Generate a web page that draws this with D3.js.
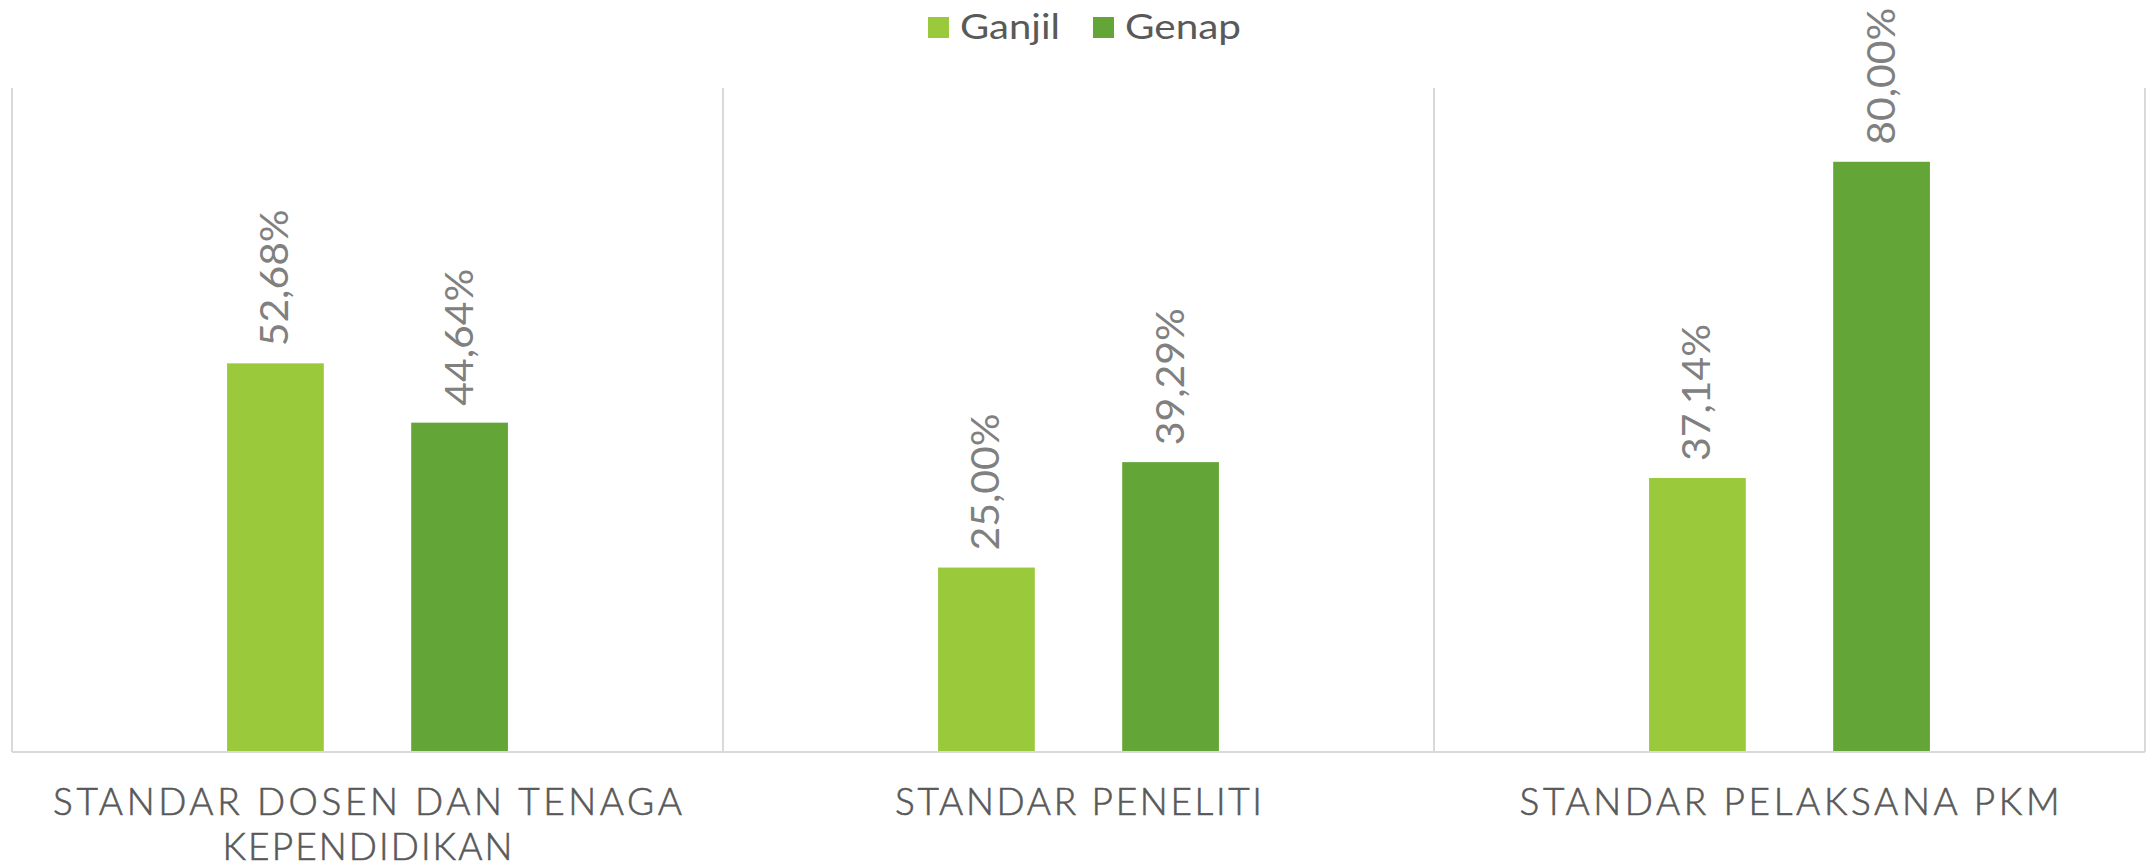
<!DOCTYPE html>
<html>
<head>
<meta charset="utf-8">
<script src="https://cdn.jsdelivr.net/npm/d3@7"></script>
<style>
  html, body { margin: 0; padding: 0; background: #fff; }
  svg { display: block; font-family: "Lato", "DejaVu Sans", sans-serif; }
</style>
</head>
<body>
<div id="chart"></div>
<script>
// data
const categories = [
  ["STANDAR DOSEN DAN TENAGA", "KEPENDIDIKAN"],
  ["STANDAR PENELITI"],
  ["STANDAR PELAKSANA PKM"]
];
const categoryKeys = ["dosen", "peneliti", "pkm"];
const seriesNames = ["Ganjil", "Genap"];
const ganjil = [0.5268, 0.25, 0.3714];
const genap = [0.4464, 0.3929, 0.80];
const seriesColors = ["#9ACA3C", "#63A537"];

const width = 2149, height = 865;
const plot = { left: 12, right: 2145, top: 88, bottom: 752 };

const svg = d3.select("#chart")
  .append("svg")
  .attr("width", width)
  .attr("height", height);

const x0 = d3.scaleBand()
  .domain(categoryKeys)
  .range([plot.left, plot.right])
  .paddingInner(0)
  .paddingOuter(0);

const x1 = d3.scaleBand()
  .domain(seriesNames)
  .range([0, x0.bandwidth()])
  .paddingInner(0.4747)
  .paddingOuter(1.168);

const y = d3.scaleLinear()
  .domain([0, 0.9])
  .range([plot.bottom, plot.top]);

const fmt = (v) => (v * 100).toFixed(2).replace(".", ",") + "%";

// vertical separators between categories
const bounds = categoryKeys.map((k) => x0(k)).concat([x0.range()[1]]);
svg.append("g")
  .selectAll("line")
  .data(bounds)
  .join("line")
  .attr("x1", (d) => d)
  .attr("x2", (d) => d)
  .attr("y1", plot.top)
  .attr("y2", plot.bottom)
  .attr("stroke", "#d9d9d9")
  .attr("stroke-width", 2);

// bars
const rows = categoryKeys.map((k, i) => ({ key: k, values: [ganjil[i], genap[i]] }));

const groups = svg.append("g")
  .selectAll("g")
  .data(rows)
  .join("g")
  .attr("transform", (d) => `translate(${x0(d.key)},0)`);

groups.selectAll("rect")
  .data((d) => d.values.map((v, j) => ({ name: seriesNames[j], value: v, j })))
  .join("rect")
  .attr("x", (d) => x1(d.name))
  .attr("y", (d) => y(d.value))
  .attr("width", x1.bandwidth())
  .attr("height", (d) => y(0) - y(d.value))
  .attr("fill", (d) => seriesColors[d.j]);

// data labels (rotated)
groups.selectAll("text")
  .data((d) => d.values.map((v, j) => ({ name: seriesNames[j], value: v })))
  .join("text")
  .attr("transform", (d) =>
    `translate(${x1(d.name) + x1.bandwidth() / 2 + 13},${y(d.value) - 17}) rotate(-90)`)
  .attr("text-anchor", "start")
  .attr("font-size", 38)
  .attr("font-weight", 400)
  .attr("fill", "#808080")
  .attr("textLength", 137)
  .attr("lengthAdjust", "spacingAndGlyphs")
  .text((d) => fmt(d.value));

// bottom axis line
svg.append("line")
  .attr("x1", plot.left)
  .attr("x2", plot.right)
  .attr("y1", plot.bottom)
  .attr("y2", plot.bottom)
  .attr("stroke", "#d9d9d9")
  .attr("stroke-width", 2);

// category labels
const labelWidths = { "STANDAR DOSEN DAN TENAGA": 629, "KEPENDIDIKAN": 290, "STANDAR PELAKSANA PKM": 540, "STANDAR PENELITI": 367 };
categoryKeys.forEach((k, i) => {
  categories[i].forEach((line, li) => {
    svg.append("text")
      .attr("x", x0(k) + x0.bandwidth() / 2)
      .attr("y", 815 + li * 45)
      .attr("text-anchor", "middle")
      .attr("font-size", 37)
      .attr("font-weight", 300)
      .attr("fill", "#595959")
      .attr("stroke", "#595959")
      .attr("stroke-width", 0.6)
      .attr("textLength", labelWidths[line])
      .attr("lengthAdjust", "spacing")
      .text(line);
  });
});

// legend
const legendX = [928, 1093];
const legendTextW = [100, 116];
const legend = svg.append("g")
  .selectAll("g")
  .data(seriesNames)
  .join("g")
  .attr("transform", (d, i) => `translate(${legendX[i]},17)`);

legend.append("rect")
  .attr("width", 21)
  .attr("height", 21)
  .attr("fill", (d, i) => seriesColors[i]);

legend.append("text")
  .attr("x", 32)
  .attr("y", 22)
  .attr("font-size", 34)
  .attr("font-weight", 400)
  .attr("fill", "#595959")
  .attr("textLength", (d, i) => legendTextW[i])
  .attr("lengthAdjust", "spacingAndGlyphs")
  .text((d) => d);
</script>
</body>
</html>
